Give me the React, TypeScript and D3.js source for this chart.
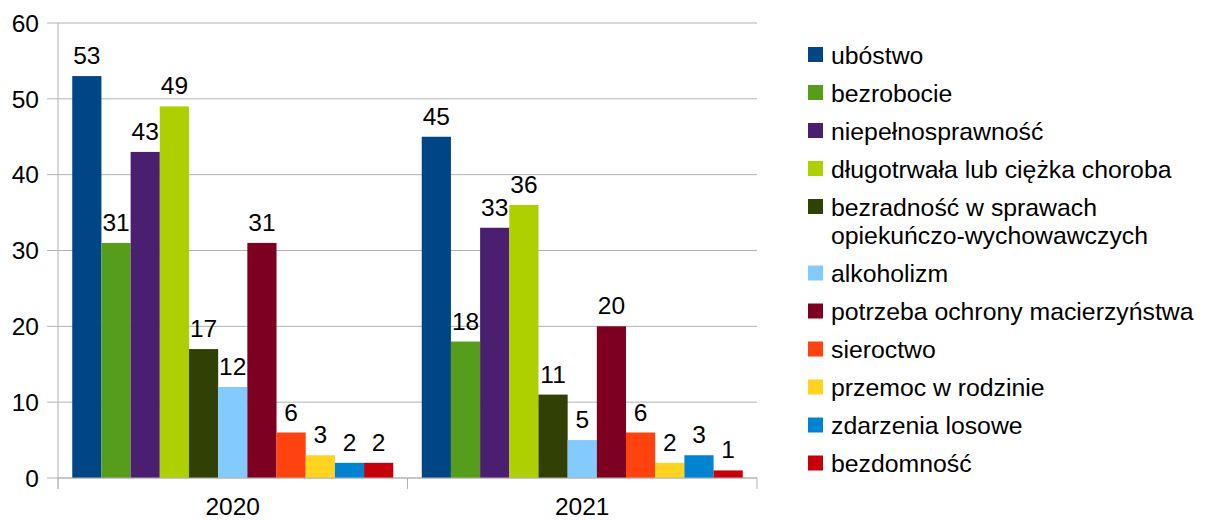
import React from "react";
import * as d3 from "d3";

const years = ["2020", "2021"];
const series = [
  "ubóstwo",
  "bezrobocie",
  "niepełnosprawność",
  "długotrwała lub ciężka choroba",
  "bezradność w sprawach opiekuńczo-wychowawczych",
  "alkoholizm",
  "potrzeba ochrony macierzyństwa",
  "sieroctwo",
  "przemoc w rodzinie",
  "zdarzenia losowe",
  "bezdomność",
];
const legendLines = [
  ["ubóstwo"],
  ["bezrobocie"],
  ["niepełnosprawność"],
  ["długotrwała lub ciężka choroba"],
  ["bezradność w sprawach", "opiekuńczo-wychowawczych"],
  ["alkoholizm"],
  ["potrzeba ochrony macierzyństwa"],
  ["sieroctwo"],
  ["przemoc w rodzinie"],
  ["zdarzenia losowe"],
  ["bezdomność"],
];
const values2020 = [53, 31, 43, 49, 17, 12, 31, 6, 3, 2, 2];
const values2021 = [45, 18, 33, 36, 11, 5, 20, 6, 2, 3, 1];
const colors = [
  "#004586",
  "#579d1c",
  "#4b1f6f",
  "#aecf00",
  "#314004",
  "#83caff",
  "#7e0021",
  "#ff420e",
  "#ffd320",
  "#0084d1",
  "#c5000b",
];
const yTicks = [0, 10, 20, 30, 40, 50, 60];

export default function App() {
  const W = 1210, H = 521;
  const left = 58, right = 757, top = 23, bottom = 478;
  const font = "'Liberation Sans', Arial, sans-serif";
  const x0 = d3.scaleBand().domain(years).range([left, right]).paddingInner(0).paddingOuter(0);
  const innerPad = (x0.bandwidth() - 321) / 2;
  const x1 = d3.scaleBand().domain(series).range([innerPad, x0.bandwidth() - innerPad]).padding(0);
  const y = d3.scaleLinear().domain([0, 60]).range([bottom, top]);
  const data = [values2020, values2021];
  const grid = "#b3b3b3";
  const fs = 24.5;
  const lfs = 24.8;

  let ly = 55;
  const legendItems = legendLines.map((lines, i) => {
    const yy = ly;
    ly += 38 + (lines.length - 1) * 28.5;
    return { lines, yy, color: colors[i] };
  });

  return (
    <svg width={W} height={H} style={{ position: "absolute", left: 0, top: 0, background: "#fff" }}>
      <rect x={0} y={0} width={W} height={H} fill="#fff" />
      {yTicks.map((t) => (
        <g key={t}>
          <line x1={47} x2={right} y1={y(t)} y2={y(t)} stroke={grid} strokeWidth={1} />
          <text x={39} y={y(t)} dy="0.36em" textAnchor="end" fontFamily={font} fontSize={fs} fill="#000">
            {t}
          </text>
        </g>
      ))}
      <line x1={left} x2={left} y1={top} y2={489} stroke={grid} />
      {[0, 1, 2].map((k) => {
        const xx = left + k * x0.bandwidth();
        return <line key={k} x1={xx} x2={xx} y1={bottom} y2={489} stroke={grid} />;
      })}
      {years.map((yr, gi) => (
        <g key={yr} transform={`translate(${x0(yr)},0)`}>
          {series.map((s, si) => {
            const v = data[gi][si];
            const bx = x1(s)!;
            return (
              <g key={s}>
                <rect x={bx} y={y(v)} width={x1.bandwidth()} height={bottom - y(v)} fill={colors[si]} />
                <text
                  x={bx + x1.bandwidth() / 2}
                  y={y(v) - 12}
                  textAnchor="middle"
                  fontFamily={font}
                  fontSize={fs}
                  fill="#000"
                >
                  {v}
                </text>
              </g>
            );
          })}
          <text x={x0.bandwidth() / 2} y={515} textAnchor="middle" fontFamily={font} fontSize={fs} fill="#000">
            {yr}
          </text>
        </g>
      ))}
      <line x1={left} x2={right} y1={bottom} y2={bottom} stroke={grid} />
      {legendItems.map((it, i) => (
        <g key={i}>
          <rect x={808} y={it.yy - 8} width={15} height={15} fill={it.color} />
          {it.lines.map((ln, li) => (
            <text key={li} x={831} y={it.yy + li * 28.5} dy="0.36em" fontFamily={font} fontSize={lfs} fill="#000">
              {ln}
            </text>
          ))}
        </g>
      ))}
    </svg>
  );
}
